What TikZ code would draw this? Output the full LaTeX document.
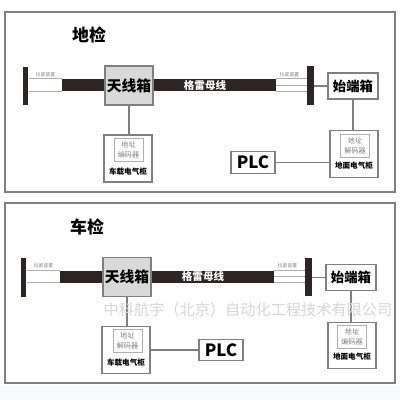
\documentclass[tikz,border=0pt]{standalone}
\usepackage{fontspec}
\setmainfont{Noto Sans CJK SC}
\usetikzlibrary{positioning}
\definecolor{RailDark}{RGB}{45,36,36}
\definecolor{EdgeGray}{RGB}{128,128,128}
\definecolor{BoxGray}{RGB}{217,217,217}
\definecolor{SoftGray}{RGB}{175,175,175}
\definecolor{MarkGray}{RGB}{214,214,214}
\definecolor{PageBlue}{RGB}{246,249,253}
\tikzset{
  panel/.style={draw=EdgeGray,line width=1pt},
  paneltitle/.style={font=\fontsize{12}{14}\selectfont\bfseries},
  plate/.style={fill=RailDark,minimum width=0.14cm,minimum height=0.95cm,inner sep=0pt},
  bus/.style={fill=RailDark,minimum width=5.35cm,minimum height=0.3cm,inner sep=0pt},
  buslabel/.style={text=white,font=\fontsize{7.5}{8}\selectfont\bfseries,inner sep=0pt},
  antenna/.style={draw=EdgeGray,fill=BoxGray,line width=0.8pt,minimum width=1.2cm,
    minimum height=0.975cm,inner sep=0pt,font=\fontsize{10.5}{12}\selectfont\bfseries},
  feeder/.style={draw=EdgeGray,fill=white,line width=0.8pt,minimum width=1.25cm,
    minimum height=0.65cm,inner sep=0pt,font=\fontsize{9.5}{11}\selectfont\bfseries},
  cabinet/.style={draw=EdgeGray,fill=white,line width=0.8pt,minimum width=1.2cm,
    minimum height=1.16cm,inner sep=0pt},
  coder/.style={draw=SoftGray,line width=0.5pt,minimum width=0.72cm,minimum height=0.575cm,
    inner sep=0pt,align=center,text=gray,font=\fontsize{5}{7}\selectfont},
  cablabel/.style={font=\fontsize{5.4}{6}\selectfont\bfseries,inner sep=0pt},
  plcbox/.style={draw=EdgeGray,line width=0.8pt,minimum width=1.1cm,minimum height=0.53cm,
    inner sep=0pt,font=\fontsize{12}{14}\selectfont\bfseries},
  tensionlabel/.style={font=\fontsize{3.4}{4}\selectfont,text=gray,inner sep=0pt},
  rail/.style={draw=SoftGray,line width=0.6pt},
  wire/.style={draw=EdgeGray,line width=0.8pt},
  watermark/.style={text=MarkGray,font=\fontsize{10.8}{12}\selectfont}
}
% rail, antenna box and feeder box of one panel
\newcommand{\railsetup}{%
  \node[bus] (bus) at (169,85) {};
  \node[buslabel] (buslabel) at (205,85) {格雷母线};
  \node[plate] (lplate) at (25.5,86) {};
  \node[plate,minimum width=0.175cm] (rplate) at (310.5,85.5) {};
  \node[tensionlabel] (ltension) at (45.5,74.5) {拉紧装置};
  \node[tensionlabel] (rtension) at (289.5,74.5) {拉紧装置};
  \node[antenna] (antenna) at (129,85.5) {天线箱};
  \node[feeder] (feeder) at (353,86) {始端箱};
  \draw[rail] (lplate.east |- bus.north) -- (bus.north west);
  \draw[rail] (lplate.east |- bus.south) -- (bus.south west);
  \draw[rail] (bus.north east) -- (rplate.west |- bus.north);
  \draw[rail] (bus.east) -- (rplate.west |- bus.east);
  \draw[rail] (bus.south east) -- (rplate.west |- bus.south);
  \draw[wire] (rplate.east |- feeder.west) -- (feeder.west);
}

\begin{document}
\begin{tikzpicture}[x=0.025cm,y=-0.025cm]
  \useasboundingbox (0,0) rectangle (400,400);
  \fill[PageBlue] (0,386) rectangle (400,400);

  % 地检
  \draw[panel] (5,12) rectangle (395,192);
  \begin{scope}[name prefix=d-]
    \node[paneltitle] (title) at (89,35) {地检};
    \railsetup
    \node[cabinet,minimum height=1.175cm] (carcab) at (128,158.5) {};
    \node[coder] (carcoder) at (128.5,149.5) {地址\\编码器};
    \node[cablabel] (carlabel) at (128,172) {车载电气柜};
    \node[cabinet] (groundcab) at (354,154) {};
    \node[coder] (groundcoder) at (355,145.5) {地址\\解码器};
    \node[cablabel] (groundlabel) at (354,165.5) {地面电气柜};
    \node[plcbox] (plc) at (253,162.5) {PLC};
    \draw[wire] (antenna.south) -- (antenna.south |- carcab.north);
    \draw[wire] (feeder.south) -- (feeder.south |- groundcab.north);
    \draw[wire] (plc.east) -- (plc.east -| groundcab.west);
  \end{scope}

  % 车检
  \draw[panel] (5,203) rectangle (395,383);
  \begin{scope}[shift={(-2,191.5)},name prefix=c-]
    \node[paneltitle] (title) at (89,35) {车检};
    \railsetup
    \node[cabinet] (carcab) at (128,158.5) {};
    \node[coder] (carcoder) at (129.5,149.5) {地址\\解码器};
    \node[cablabel] (carlabel) at (128,171.5) {车载电气柜};
    \node[cabinet] (groundcab) at (354,154) {};
    \node[coder] (groundcoder) at (354,145.5) {地址\\编码器};
    \node[cablabel] (groundlabel) at (354,165.5) {地面电气柜};
    \node[plcbox] (plc) at (223,158.5) {PLC};
    \draw[wire] (antenna.south) -- (antenna.south |- carcab.north);
    \draw[wire] (feeder.south) -- (feeder.south |- groundcab.north);
    \draw[wire] (carcab.east) -- (plc.west);
    \node[watermark] (mark) at (250,118.5) {中科航宇（北京）自动化工程技术有限公司};
  \end{scope}
\end{tikzpicture}
\end{document}
